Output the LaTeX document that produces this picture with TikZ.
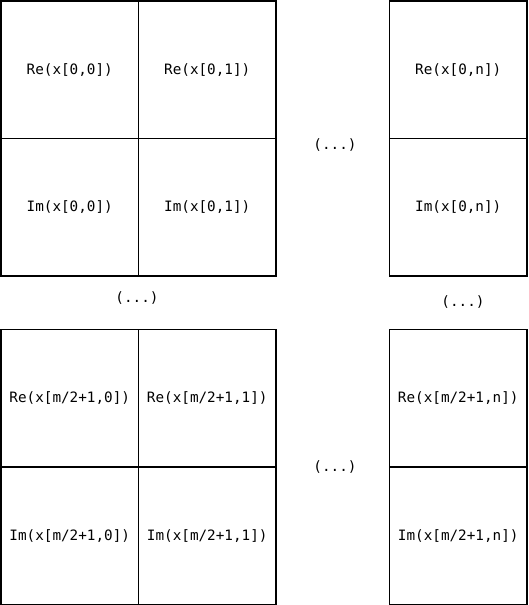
\documentclass[tikz,border=0pt]{standalone}
\usepackage{fontspec}
\setmonofont{DejaVu Sans Mono}
\usetikzlibrary{positioning}

\begin{document}
\begin{tikzpicture}[
 x=1pt,y=-1pt,
 node distance=0pt,
 cell/.style={draw,line width=1.8pt,outer sep=0pt,minimum width=137.5pt,minimum height=137.5pt,inner sep=0pt,font=\ttfamily\fontsize{14.3}{17}\selectfont},
 dots/.style={font=\ttfamily\fontsize{14.3}{17}\selectfont}
]
\useasboundingbox (0,0) rectangle (528,605);
% first row
\node[cell,anchor=north west] (re00) at (1,1) {Re(x[0,0])};
\node[cell,right=of re00] (re01) {Re(x[0,1])};
\node[cell,below=of re00] (im00) {Im(x[0,0])};
\node[cell,below=of re01] (im01) {Im(x[0,1])};
\node[cell,anchor=north west] (re0n) at (389.5,1) {Re(x[0,n])};
\node[cell,below=of re0n] (im0n) {Im(x[0,n])};
% last row
\node[cell,anchor=north west] (rem0) at (1,329.5) {Re(x[m/2+1,0])};
\node[cell,right=of rem0] (rem1) {Re(x[m/2+1,1])};
\node[cell,below=of rem0] (imm0) {Im(x[m/2+1,0])};
\node[cell,below=of rem1] (imm1) {Im(x[m/2+1,1])};
\node[cell,anchor=north west] (remn) at (389.5,329.5) {Re(x[m/2+1,n])};
\node[cell,below=of remn] (immn) {Im(x[m/2+1,n])};
% gaps
\node[dots] (dtop) at (335,145) {(...)};
\node[dots] (dleft) at (137,298) {(...)};
\node[dots] (dright) at (463,302) {(...)};
\node[dots] (dbot) at (335,467) {(...)};
\end{tikzpicture}
\end{document}
